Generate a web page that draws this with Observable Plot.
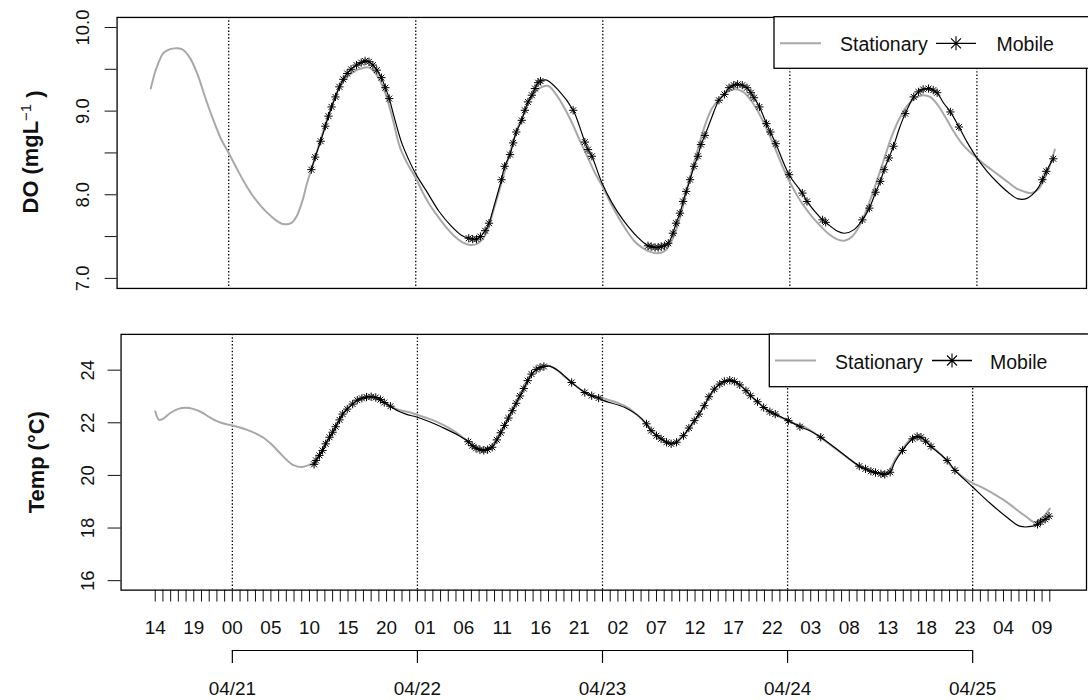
<!DOCTYPE html>
<html><head><meta charset="utf-8">
<script src="https://cdn.jsdelivr.net/npm/d3@7"></script>
<script src="https://cdn.jsdelivr.net/npm/@observablehq/plot@0.6"></script>
<style>
body{margin:0;background:#fff;}
#wrap{position:relative;width:1088px;height:700px;overflow:hidden;background:#fff;font-family:"Liberation Sans",Arial,sans-serif;}
#wrap > div.p{position:absolute;left:0;}
#overlay{position:absolute;left:0;top:0;}
</style></head><body><div id="wrap"></div>
<script>
// ---- hours are counted from 04/20 14:00 ----
const hourTicks = d3.range(0, 117);               // one tick per hour
const hourLabels = ["14","19","00","05","10","15","20","01","06","11","16","21",
                    "02","07","12","17","22","03","08","13","18","23","04","09"];
const labelHours = hourLabels.map((_, i) => i * 5);
const dayHours = [10, 34, 58, 82, 106];
const dayLabels = ["04/21","04/22","04/23","04/24","04/25"];

const doTicks = [7, 7.5, 8, 8.5, 9, 9.5, 10];
const doLabels = [7, 8, 9, 10];
const tempTicks = [16, 18, 20, 22, 24];

// DO, stationary sensor [hour, mg/L]
const doStationary = [[0,9.27],[0.5,9.45],[1,9.58],[1.5,9.68],[2,9.72],[3,9.75],[4,9.74],[5,9.64],[6,9.44],[7,9.16],[8,8.9],[9,8.67],[10,8.5],[11,8.32],[12,8.15],[13,8.0],[14,7.88],[15,7.78],[16,7.7],[17,7.65],[18,7.66],[18.7,7.74],[19.5,7.94],[20,8.12],[20.6,8.3],[21,8.42],[22,8.72],[23,9.0],[24,9.24],[25,9.39],[26,9.47],[27,9.51],[28,9.52],[29,9.43],[30,9.24],[31,8.92],[32,8.56],[33,8.36],[34,8.2],[35,8.01],[36,7.85],[37,7.72],[38,7.6],[39,7.5],[40,7.43],[41,7.4],[42,7.42],[43,7.53],[44,7.82],[45,8.14],[46,8.48],[47,8.78],[48,9.0],[49,9.19],[50,9.28],[51,9.3],[52,9.2],[53,9.05],[54,8.87],[55,8.66],[56,8.46],[57,8.26],[58,8.09],[59,7.9],[60,7.73],[61,7.58],[62,7.45],[63,7.37],[64,7.32],[65,7.3],[66,7.33],[67,7.48],[68,7.76],[69,8.14],[70,8.48],[71,8.8],[72,9.03],[73,9.15],[74,9.23],[75,9.26],[76,9.23],[77,9.13],[78,8.98],[79,8.79],[80,8.58],[81,8.35],[82,8.15],[83,7.98],[84,7.84],[85,7.72],[86,7.62],[87,7.53],[88,7.47],[89,7.45],[90,7.5],[91,7.64],[92,7.86],[93,8.12],[94,8.4],[95,8.68],[96,8.9],[97,9.06],[98,9.15],[99,9.19],[100,9.17],[101,9.07],[102,8.92],[103,8.76],[104,8.62],[105,8.52],[106,8.44],[107,8.36],[108,8.29],[109,8.22],[110,8.15],[111,8.08],[112,8.04],[113,8.02],[114,8.08],[115,8.26],[116,8.54]];

// DO, mobile sensor [hour, mg/L, sample marker]
const doMobile = [[20.6,8.3,1],[21.1,8.45,1],[21.8,8.64,1],[22.4,8.82,1],[22.8,8.94,1],[23.2,9.05,1],[23.7,9.17,1],[24.2,9.29,1],[24.7,9.38,1],[25.2,9.45,1],[25.7,9.5,1],[26.4,9.55,1],[27.0,9.58,1],[27.5,9.6,1],[28.0,9.59,1],[28.5,9.55,1],[29.0,9.49,1],[29.6,9.4,1],[30.1,9.28,1],[30.6,9.15,1],[31.2,8.94,0],[32.2,8.62,0],[33.1,8.42,0],[34.0,8.25,0],[35.4,8.04,0],[37.0,7.8,0],[38.5,7.63,0],[39.8,7.52,0],[40.8,7.48,1],[41.3,7.47,1],[41.8,7.47,1],[42.3,7.5,1],[42.9,7.57,1],[43.4,7.66,1],[44.0,7.85,0],[45.0,8.18,1],[45.4,8.34,1],[46.1,8.48,1],[46.5,8.62,1],[46.9,8.75,1],[47.6,8.89,1],[48.0,9.01,1],[48.4,9.11,1],[48.9,9.19,1],[49.3,9.27,1],[49.7,9.34,1],[50.0,9.36,1],[50.8,9.37,0],[52.3,9.25,0],[54.2,9.01,1],[55.0,8.82,0],[55.7,8.63,1],[56.1,8.54,1],[56.6,8.46,1],[57.9,8.14,0],[59.2,7.9,0],[60.6,7.7,0],[62.5,7.49,0],[63.8,7.39,1],[64.2,7.38,1],[64.7,7.37,1],[65.1,7.37,1],[65.5,7.38,1],[65.9,7.39,1],[66.4,7.42,1],[67.0,7.54,1],[67.4,7.66,1],[67.9,7.78,1],[68.3,7.92,1],[68.7,8.04,1],[69.2,8.18,1],[69.7,8.34,1],[70.2,8.46,1],[70.6,8.6,1],[71.1,8.71,1],[72.0,8.93,0],[72.9,9.13,1],[73.6,9.2,1],[74.2,9.28,1],[74.8,9.31,1],[75.3,9.32,1],[75.9,9.31,1],[76.5,9.28,1],[77.0,9.22,1],[77.4,9.16,1],[78.1,9.05,1],[79.0,8.85,1],[79.5,8.75,1],[80.2,8.61,1],[81.9,8.24,1],[83.6,8.02,1],[84.2,7.92,1],[85.2,7.8,0],[86.2,7.7,1],[86.6,7.67,1],[88.0,7.57,0],[89.0,7.54,0],[90.2,7.58,0],[91.3,7.7,1],[92.2,7.84,1],[93.0,8.03,1],[93.6,8.16,1],[94.1,8.3,1],[94.7,8.44,1],[95.3,8.58,1],[96.0,8.78,0],[96.8,8.97,1],[97.9,9.17,1],[98.5,9.23,1],[99.1,9.26,1],[99.8,9.27,1],[100.4,9.25,1],[100.9,9.22,1],[101.7,9.1,0],[102.6,8.99,1],[103.7,8.81,1],[104.8,8.62,0],[106.0,8.44,0],[107.3,8.28,0],[108.6,8.15,0],[110.0,8.03,0],[111.3,7.95,0],[112.5,7.96,0],[113.7,8.06,0],[114.4,8.18,1],[114.9,8.28,1],[115.8,8.43,1]];

// Temperature, stationary sensor [hour, °C]
const tempStationary = [[0,22.43],[0.5,22.11],[1,22.15],[2,22.38],[3,22.53],[4,22.57],[5,22.52],[6,22.4],[7,22.22],[8,22.06],[9,21.96],[10,21.9],[11,21.82],[12,21.72],[13,21.6],[14,21.44],[15,21.2],[16,20.9],[17,20.6],[18,20.38],[19,20.32],[20,20.4],[20.6,20.45],[21,20.66],[22,21.14],[23,21.62],[24,22.18],[25,22.58],[26,22.82],[27,22.94],[28,22.97],[29,22.88],[30,22.7],[31,22.56],[32,22.46],[33,22.4],[34,22.3],[35,22.2],[36,22.1],[37,21.97],[38,21.82],[39,21.64],[40,21.42],[41,21.18],[42,21.01],[43,21.0],[44,21.25],[45,21.72],[46,22.3],[47,22.88],[48,23.42],[49,23.9],[50,24.12],[51,24.17],[52,24.03],[53,23.78],[54,23.54],[55,23.3],[56,23.1],[57,22.99],[58,22.94],[59,22.85],[60,22.75],[61,22.62],[62,22.42],[63,22.16],[64,21.82],[65,21.54],[66,21.32],[67,21.22],[68,21.4],[69,21.68],[70,22.06],[71,22.56],[72,23.05],[73,23.42],[74,23.6],[75,23.58],[76,23.4],[77,23.1],[78,22.82],[79,22.57],[80,22.38],[81,22.22],[82,22.1],[83,21.96],[84,21.87],[85,21.7],[86,21.5],[87,21.28],[88,21.06],[89,20.84],[90,20.62],[91,20.42],[92,20.26],[93,20.14],[94,20.08],[95,20.15],[96,20.62],[97,21.05],[98,21.38],[99,21.47],[100,21.3],[101,21.02],[102,20.76],[103,20.42],[104,20.12],[105,19.88],[106,19.71],[107,19.57],[108,19.42],[109,19.25],[110,19.07],[111,18.86],[112,18.63],[113,18.42],[114,18.22],[115,18.38],[116,18.74]];

// Temperature, mobile sensor [hour, °C, sample marker]
const tempMobile = [[20.6,20.42,1],[20.85,20.57,1],[21.3,20.76,1],[21.7,20.95,1],[22.1,21.2,1],[22.6,21.45,1],[23.0,21.64,1],[23.4,21.85,1],[23.9,22.11,1],[24.3,22.33,1],[24.9,22.52,1],[25.6,22.71,1],[26.2,22.86,1],[26.8,22.93,1],[27.4,22.98,1],[28.0,22.99,1],[28.6,22.96,1],[29.2,22.88,1],[29.7,22.77,1],[30.5,22.63,1],[31.5,22.45,0],[32.5,22.33,0],[34.0,22.21,0],[35.5,22.05,0],[37.2,21.83,0],[39.4,21.51,0],[40.6,21.28,1],[41.1,21.13,1],[41.6,21.03,1],[42.1,20.98,1],[42.6,20.95,1],[43.1,20.98,1],[43.7,21.07,1],[44.3,21.35,1],[44.8,21.62,1],[45.3,21.9,1],[45.8,22.18,1],[46.3,22.46,1],[46.8,22.74,1],[47.3,23.02,1],[47.8,23.3,1],[48.3,23.6,1],[48.8,23.85,1],[49.4,24.02,1],[49.9,24.1,1],[50.4,24.14,1],[51.0,24.16,0],[52.3,23.97,0],[54.0,23.53,1],[55.7,23.15,1],[56.6,23.03,1],[57.5,22.94,1],[58.0,22.86,0],[60.9,22.58,0],[62.5,22.3,0],[63.7,21.96,1],[64.3,21.7,1],[65.0,21.51,1],[65.6,21.39,1],[66.3,21.26,1],[66.9,21.2,1],[67.6,21.26,1],[68.5,21.51,1],[69.2,21.8,1],[69.9,22.08,1],[70.5,22.33,1],[71.2,22.65,1],[71.8,22.99,1],[72.5,23.28,1],[73.2,23.47,1],[73.8,23.57,1],[74.5,23.62,1],[75.1,23.57,1],[75.8,23.44,1],[76.6,23.22,1],[77.2,23.03,1],[78.1,22.8,1],[78.9,22.58,1],[79.7,22.42,1],[80.4,22.33,1],[82.1,22.08,1],[83.6,21.85,1],[85.0,21.68,0],[86.3,21.45,1],[88.9,20.88,0],[91.3,20.35,1],[92.1,20.25,1],[92.8,20.16,1],[93.4,20.11,1],[94.1,20.06,1],[94.6,20.04,1],[95.3,20.12,1],[95.9,20.5,0],[96.9,20.95,1],[98.2,21.39,1],[98.8,21.48,1],[99.3,21.45,1],[99.9,21.3,1],[100.6,21.1,1],[102.7,20.57,1],[103.7,20.19,1],[106.0,19.56,0],[108.3,18.93,0],[110.4,18.42,0],[112.1,18.07,0],[113.8,18.07,0],[114.4,18.14,1],[114.8,18.23,1],[115.4,18.33,1],[115.9,18.45,1]];

const FONT = '"Liberation Sans", Arial, sans-serif';
const W = 1092;
const GRAY = "#a8a8a8";
const wrap = document.getElementById("wrap");
function place(el, top) {
  const d = document.createElement("div");
  d.className = "p"; d.style.top = top + "px";
  d.appendChild(el); wrap.appendChild(d);
}
const hx = d => d[0], vy = d => d[1];
function seriesMarks(stat, mob) {
  const pts = mob.filter(d => d[2] === 1);
  return [
    Plot.ruleX(dayHours, {stroke: "#000", strokeWidth: 1.3, strokeDasharray: "1.4,2"}),
    Plot.line(stat, {x: hx, y: vy, stroke: GRAY, strokeWidth: 2, curve: "catmull-rom"}),
    Plot.line(mob, {x: hx, y: vy, stroke: "#000", strokeWidth: 1.2, curve: "catmull-rom"}),
    Plot.dot(pts, {x: hx, y: vy, symbol: "plus", r: 2.8, stroke: "#000", strokeWidth: 1}),
    Plot.dot(pts, {x: hx, y: vy, symbol: "times", r: 2.8, stroke: "#000", strokeWidth: 1})
  ];
}
const style = {fontFamily: FONT, fontSize: "19px", color: "#111", background: "transparent", overflow: "visible"};

// ---- top panel: DO ----
const topPlot = Plot.plot({
  width: W, height: 300, marginLeft: 117, marginRight: 2, marginTop: 17, marginBottom: 11,
  style,
  x: {domain: [-4.32, 120.06], axis: null},
  y: {domain: [6.88, 10.12], label: null},
  marks: [
    ...seriesMarks(doStationary, doMobile),
    Plot.axisY(doTicks, {tickSize: 12, tickFormat: () => "", label: null}),
    Plot.text(doLabels, {y: d => d, text: d => d.toFixed(1), frameAnchor: "left", dx: -28,
      rotate: -90, textAnchor: "middle", lineAnchor: "bottom", fontSize: 18.5, fill: "#111"}),
    Plot.text(["DO (mgL⁻¹)"], {frameAnchor: "left", dx: -79, dy: -1, rotate: -90, textAnchor: "middle",
      lineAnchor: "bottom", fontSize: 22, fontWeight: "bold", fill: "#111"}),
    Plot.frame({stroke: "#000", strokeWidth: 1.3})
  ]
});
place(topPlot, 0);

// ---- bottom panel: Temperature ----
const botPlot = Plot.plot({
  width: W, height: 400, marginLeft: 121, marginRight: 2, marginTop: 34, marginBottom: 109.3,
  style,
  x: {domain: [-4.43, 120.76], label: null},
  y: {domain: [15.64, 25.36], label: null},
  marks: [
    ...seriesMarks(tempStationary, tempMobile),
    Plot.axisY(tempTicks, {tickSize: 13, tickFormat: () => "", label: null}),
    Plot.text(tempTicks, {y: d => d, text: d => String(d), frameAnchor: "left", dx: -27,
      rotate: -90, textAnchor: "middle", lineAnchor: "bottom", fontSize: 18.5, fill: "#111"}),
    Plot.text(["Temp (°C)"], {frameAnchor: "left", dx: -77, rotate: -90, textAnchor: "middle",
      lineAnchor: "bottom", fontSize: 22, fontWeight: "bold", fill: "#111"}),
    Plot.axisX(hourTicks, {tickSize: 12, tickFormat: () => "", label: null}),
    Plot.text(labelHours, {x: d => d, text: (d, i) => hourLabels[i], frameAnchor: "bottom", dy: 44.3,
      lineAnchor: "bottom", textAnchor: "middle", fontSize: 19, fill: "#111"}),
    Plot.frame({stroke: "#000", strokeWidth: 1.3})
  ]
});
place(botPlot, 300);

// ---- date bracket below the hour axis ----
const datePlot = Plot.plot({
  width: W, height: 55, marginLeft: 121, marginRight: 2, marginTop: 5, marginBottom: 37,
  style,
  x: {domain: [-4.43, 120.76], axis: null},
  y: {domain: [0, 1], reverse: true, axis: null},
  marks: [
    Plot.ruleY([0], {x1: () => dayHours[0], x2: () => dayHours[dayHours.length - 1], stroke: "#000", strokeWidth: 1.2}),
    Plot.ruleX(dayHours, {stroke: "#000", strokeWidth: 1.2}),
    Plot.text(dayHours, {x: d => d, text: (d, i) => dayLabels[i], frameAnchor: "bottom", dy: 32,
      lineAnchor: "bottom", textAnchor: "middle", fontSize: 19, fill: "#111"})
  ]
});
place(datePlot, 645);

// superscript for the DO axis title
d3.select(topPlot).selectAll("text").filter(function() { return this.textContent === "DO (mgL⁻¹)"; })
  .each(function() {
    const t = d3.select(this); t.text("");
    t.append("tspan").text("DO (mgL");
    t.append("tspan").attr("dy", "-0.5em").attr("font-size", "15px").attr("font-weight", "normal").text("−1");
    t.append("tspan").attr("dy", "0.5em").text(" )");
  });

// ---- legends ----
const ov = d3.select(wrap).append("svg").attr("id", "overlay").attr("width", 1088).attr("height", 700)
  .style("font-family", FONT);
function legend(x0, y0, h, lineY, xs) {
  const g = ov.append("g");
  g.append("rect").attr("x", x0).attr("y", y0).attr("width", 400).attr("height", h)
    .attr("fill", "#fff").attr("stroke", "#000").attr("stroke-width", 1.3);
  g.append("line").attr("x1", xs[0]).attr("x2", xs[1]).attr("y1", lineY).attr("y2", lineY)
    .attr("stroke", GRAY).attr("stroke-width", 2);
  g.append("text").attr("x", xs[2]).attr("y", lineY + 8).attr("font-size", 19.5).attr("fill", "#111").text("Stationary");
  g.append("line").attr("x1", xs[3]).attr("x2", xs[4]).attr("y1", lineY).attr("y2", lineY)
    .attr("stroke", "#000").attr("stroke-width", 1.3);
  const cx = (xs[3] + xs[4]) / 2;
  g.append("path").attr("d", `M${cx},${lineY-7}V${lineY+7}M${cx-5},${lineY-5}L${cx+5},${lineY+5}M${cx-5},${lineY+5}L${cx+5},${lineY-5}`)
    .attr("stroke", "#000").attr("stroke-width", 1.1).attr("fill", "none");
  g.append("text").attr("x", xs[5]).attr("y", lineY + 8).attr("font-size", 19.5).attr("fill", "#111").text("Mobile");
}
legend(774, 16.7, 51.6, 43.3, [780, 821, 840, 936, 976, 996.5]);
legend(769.3, 334, 52.7, 360.5, [775, 816, 835, 932, 972, 990]);
</script></body></html>
